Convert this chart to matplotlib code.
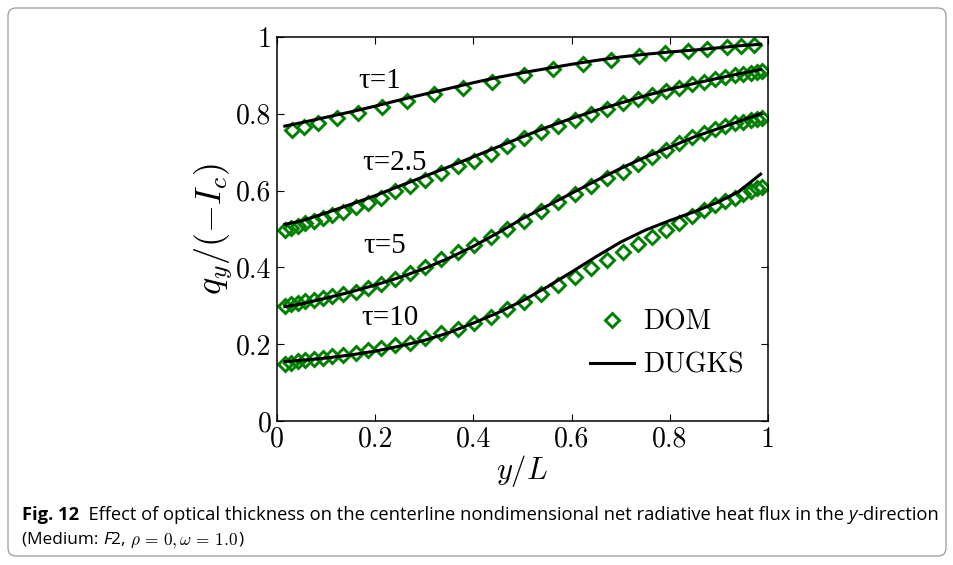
import matplotlib
matplotlib.use("Agg")
import matplotlib.pyplot as plt
from matplotlib.patches import FancyBboxPatch
from matplotlib.transforms import IdentityTransform

# DOM sample positions (shared by tau = 2.5, 5, 10)
x_dom = [0.016, 0.029, 0.043, 0.058, 0.075, 0.093, 0.113, 0.135, 0.160, 0.185,
         0.212, 0.241, 0.271, 0.302, 0.335, 0.368, 0.401, 0.435, 0.469, 0.504,
         0.538, 0.572, 0.606, 0.640, 0.672, 0.704, 0.735, 0.764, 0.792, 0.819,
         0.845, 0.869, 0.892, 0.913, 0.932, 0.950, 0.965, 0.977, 0.987]
dom_t25 = [0.498, 0.503, 0.509, 0.515, 0.522, 0.529, 0.537, 0.545, 0.556, 0.569,
           0.580, 0.599, 0.612, 0.628, 0.646, 0.663, 0.677, 0.696, 0.716, 0.736,
           0.752, 0.769, 0.784, 0.799, 0.812, 0.827, 0.839, 0.850, 0.859, 0.868,
           0.877, 0.884, 0.890, 0.896, 0.900, 0.904, 0.907, 0.909, 0.911]
dom_t5 = [0.300, 0.304, 0.308, 0.312, 0.316, 0.321, 0.325, 0.330, 0.337, 0.347,
          0.357, 0.371, 0.385, 0.402, 0.421, 0.441, 0.459, 0.480, 0.501, 0.522,
          0.548, 0.570, 0.592, 0.612, 0.632, 0.649, 0.670, 0.688, 0.706, 0.724,
          0.739, 0.749, 0.760, 0.768, 0.775, 0.779, 0.784, 0.786, 0.789]
dom_t10 = [0.149, 0.152, 0.155, 0.158, 0.161, 0.164, 0.168, 0.172, 0.177, 0.185,
           0.191, 0.198, 0.204, 0.215, 0.228, 0.240, 0.254, 0.272, 0.291, 0.309,
           0.330, 0.353, 0.376, 0.398, 0.419, 0.440, 0.461, 0.480, 0.497, 0.516,
           0.533, 0.550, 0.562, 0.572, 0.580, 0.591, 0.600, 0.606, 0.610]
# tau = 1 was sampled on a coarser grid
x_dom1 = [0.030, 0.054, 0.084, 0.122, 0.164, 0.213, 0.264, 0.320, 0.378, 0.438,
          0.503, 0.563, 0.624, 0.681, 0.738, 0.790, 0.837, 0.875, 0.917, 0.946, 0.971]
dom_t1 = [0.758, 0.765, 0.777, 0.788, 0.801, 0.819, 0.833, 0.852, 0.868, 0.884,
          0.901, 0.916, 0.929, 0.941, 0.951, 0.958, 0.964, 0.968, 0.973, 0.976, 0.978]

# DUGKS curves
x_dug = [0.016, 0.05, 0.1, 0.15, 0.2, 0.25, 0.3, 0.35, 0.4, 0.45, 0.5, 0.55,
         0.6, 0.65, 0.7, 0.75, 0.8, 0.85, 0.9, 0.94, 0.985]
dug_t1 = [0.768, 0.777, 0.791, 0.805, 0.820, 0.836, 0.851, 0.866, 0.881, 0.895,
          0.907, 0.918, 0.929, 0.939, 0.948, 0.955, 0.961, 0.966, 0.972, 0.977, 0.981]
dug_t25 = [0.512, 0.521, 0.542, 0.564, 0.587, 0.612, 0.637, 0.662, 0.688, 0.714,
           0.740, 0.765, 0.788, 0.809, 0.828, 0.847, 0.864, 0.879, 0.893, 0.904, 0.915]
dug_t5 = [0.298, 0.305, 0.320, 0.336, 0.354, 0.374, 0.397, 0.424, 0.455, 0.490,
          0.527, 0.560, 0.593, 0.626, 0.658, 0.687, 0.713, 0.740, 0.762, 0.780, 0.800]
dug_t10 = [0.155, 0.158, 0.164, 0.172, 0.182, 0.195, 0.210, 0.230, 0.255, 0.282,
           0.313, 0.349, 0.388, 0.428, 0.466, 0.497, 0.522, 0.545, 0.571, 0.597, 0.643]

ticks = [0, 0.2, 0.4, 0.6, 0.8, 1]
tick_labels = ['0', '0.2', '0.4', '0.6', '0.8', '1']
tau_labels = ['τ=1', 'τ=2.5', 'τ=5', 'τ=10']
tau_pos = [(0.21, 0.885), (0.24, 0.672), (0.22, 0.456), (0.23, 0.268)]

green = '#008000'
W, H = 954, 565
fig = plt.figure(figsize=(W / 100, H / 100), dpi=100)
ax = fig.add_axes([277 / W, 1 - 421 / H, 491 / W, 384 / H])

mk = dict(ls='none', marker='D', ms=6.8, mfc='none', mec=green, mew=2.1)
ax.plot(x_dom, dom_t10, **mk)
ax.plot(x_dom, dom_t5, **mk)
ax.plot(x_dom, dom_t25, **mk)
ax.plot(x_dom1, dom_t1, label='DOM', **mk)
for yy in (dug_t10, dug_t5, dug_t25):
    ax.plot(x_dug, yy, color='black', lw=2.2)
ax.plot(x_dug, dug_t1, color='black', lw=2.2, label='DUGKS')

ax.set_xlim(0, 1)
ax.set_ylim(0, 1)
ax.set_xticks(ticks)
ax.set_yticks(ticks)
ax.set_xticklabels(tick_labels)
ax.set_yticklabels(tick_labels)
ax.tick_params(direction='in', length=5, width=0.8, top=True, right=True,
               labelsize=20, pad=4)
for lab in ax.get_xticklabels() + ax.get_yticklabels():
    lab.set_family('cmr10')
for s in ax.spines.values():
    s.set_linewidth(1.1)

ax.set_xlabel('$y/L$', fontsize=22, math_fontfamily='cm', labelpad=0)
ax.set_ylabel('$q_y/(-I_c)$', fontsize=26, math_fontfamily='cm', labelpad=1)

for t, (tx, ty) in zip(tau_labels, tau_pos):
    ax.text(tx, ty, t, fontsize=21, family='Liberation Serif',
            ha='center', va='center')

leg = ax.legend(loc='upper left', bbox_to_anchor=(0.6375, 0.29), frameon=False,
                prop={'family': 'cmr10', 'size': 20}, handlelength=1.6,
                handletextpad=0.3, labelspacing=0.58, borderpad=0,
                borderaxespad=0)

# rounded frame around the figure
frame = FancyBboxPatch((8, 9), 938, 548, boxstyle='round,pad=0,rounding_size=8',
                       transform=IdentityTransform(), fc='none', ec='#9a9a9a',
                       lw=0.9)
fig.patches.append(frame)

# caption, built from consecutive pieces
fig.canvas.draw()
rend = fig.canvas.get_renderer()


def caption_line(pieces, x0, y0, size=13.2):
    x = x0
    for txt, kw in pieces:
        t = fig.text(x / W, y0, txt, fontsize=size, va='baseline', **kw)
        x = t.get_window_extent(rend).x1


sans = dict(family='Open Sans')
caption_line([('Fig. 12', dict(family='Open Sans', weight='bold')),
              ('  Effect of optical thickness on the centerline nondimensional '
               'net radiative heat flux in the ', sans),
              ('y', dict(family='Open Sans', style='italic')),
              ('-direction', sans)], 22, 1 - 520 / H)
caption_line([('(Medium: ', sans),
              ('F', dict(family='Open Sans', style='italic')),
              ('2, ', sans),
              (r'$\rho\,=\,0,\omega\,=\,1.0$', dict(math_fontfamily='cm')),
              (')', sans)], 22, 1 - 544 / H, size=12.4)

fig.savefig('out.png', dpi=100)
